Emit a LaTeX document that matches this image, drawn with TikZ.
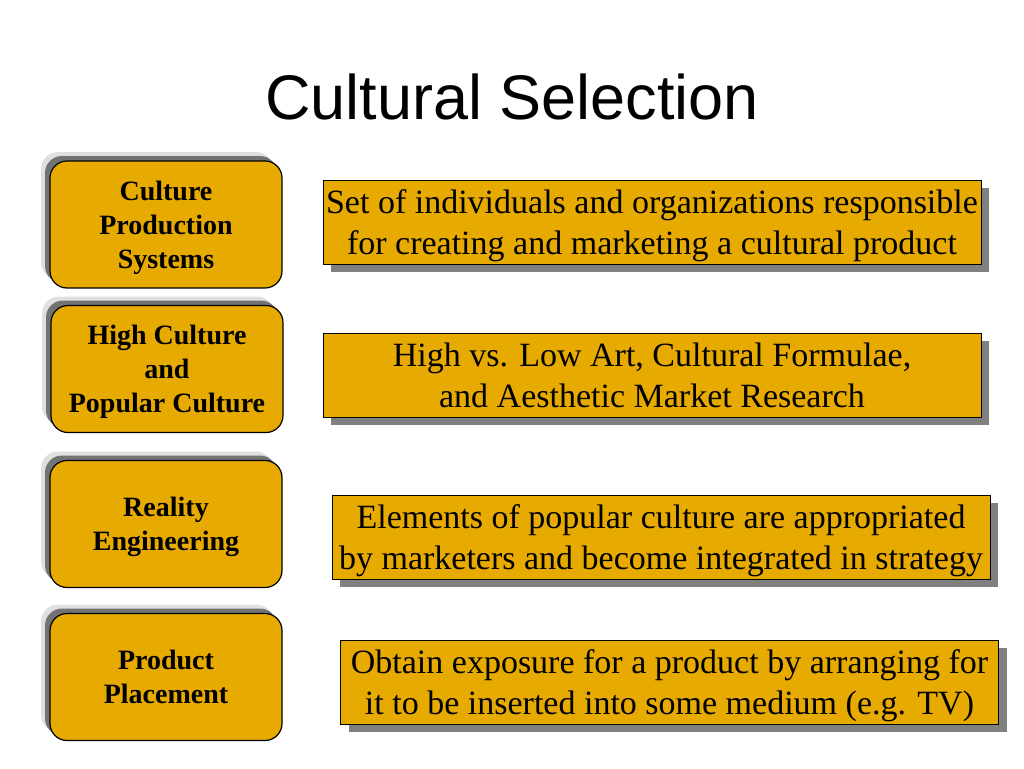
\documentclass[tikz,border=0pt]{standalone}
\usepackage{fontspec}
\setmainfont{Liberation Serif}
\newfontfamily\titlefont{Liberation Sans}
\usetikzlibrary{shadows}
\usetikzlibrary{positioning}
\definecolor{gold}{RGB}{230,170,0}
\tikzstyle{topic}=[rectangle,rounded corners=17pt,fill=gold,draw=black,line width=1.2pt,minimum width=232pt,minimum height=127pt,inner sep=0pt,text depth=0pt,align=center,font=\fontsize{28}{34}\selectfont\bfseries,copy shadow={shadow xshift=-9pt,shadow yshift=9pt,fill=black!12,draw=none},copy shadow={shadow xshift=-5pt,shadow yshift=5pt,fill=black!55,draw=none}]
\tikzstyle{definition}=[rectangle,fill=gold,draw=black,line width=1pt,minimum width=658pt,minimum height=84pt,inner sep=0pt,text depth=0pt,align=center,font=\fontsize{34}{41}\selectfont,copy shadow={shadow xshift=8pt,shadow yshift=-8pt,fill=black!50,draw=none}]
\tikzstyle{heading}=[font=\titlefont\fontsize{63}{70}\selectfont]

\begin{document}
\begin{tikzpicture}[x=1pt,y=-1pt]
\useasboundingbox (0,0) rectangle (1024,768);

%title
    \node[heading] (title) at (512,97) {Cultural Selection};

%topics
    \foreach \pos/\name/\words in {{(166,224.5)/cps/{Culture\\Production\\Systems}}, {(167,369)/hc/{High Culture\\and\\Popular Culture}}, {(166,524)/re/{Reality\\Engineering}}, {(166,677)/pp/{Product\\Placement}}}
        \node[topic] (\name) at \pos {\words};

%definitions
    \foreach \pos/\name/\words in {{(652,222)/cpsdef/{Set of individuals and organizations responsible\\for creating and marketing a cultural product}}, {(652,375)/hcdef/{High vs. Low Art, Cultural Formulae,\\and Aesthetic Market Research}}, {(661,537)/redef/{Elements of popular culture are appropriated\\by marketers and become integrated in strategy}}, {(669.5,682)/ppdef/{Obtain exposure for a product by arranging for\\it to be inserted into some medium (e.g. TV)}}}
        \node[definition] (\name) at \pos {\words};

\end{tikzpicture}
\end{document}
